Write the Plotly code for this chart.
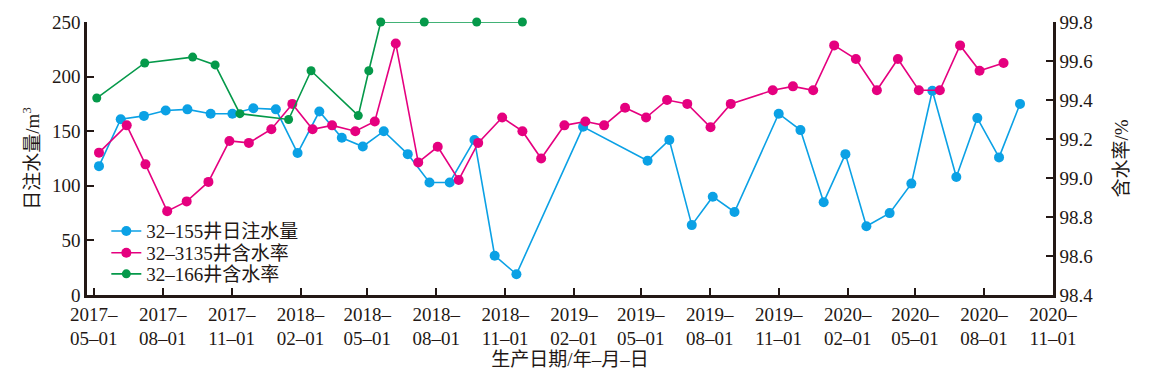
import plotly.graph_objects as go

# ---- data ----
inj_dates = ["2017-05-08","2017-06-06","2017-07-07","2017-08-05","2017-09-03","2017-10-04","2017-11-02","2017-11-30","2017-12-30","2018-01-28",
             "2018-02-26","2018-03-28","2018-04-25","2018-05-23","2018-06-24","2018-07-23","2018-08-19","2018-09-21","2018-10-18","2018-11-16",
             "2019-02-13","2019-05-10","2019-06-08","2019-07-08","2019-08-05","2019-09-03","2019-11-01","2019-11-30","2019-12-31","2020-01-29",
             "2020-02-26","2020-03-28","2020-04-26","2020-05-24","2020-06-25","2020-07-23","2020-08-21","2020-09-18"]
inj_155 = [118, 161, 164, 169, 170, 166, 166, 171, 170, 130,
           168, 144, 136, 150, 129, 103, 103, 142, 36, 19,
           154, 123, 142, 64, 90, 76, 166, 151, 85, 129,
           63, 75, 102, 187, 108, 162, 126, 175]

wc3135_dates = ["2017-05-08","2017-06-14","2017-07-09","2017-08-07","2017-09-02","2017-10-01","2017-10-29","2017-11-24","2017-12-24","2018-01-21",
                "2018-02-17","2018-03-15","2018-04-15","2018-05-11","2018-06-08","2018-07-08","2018-08-03","2018-08-31","2018-09-26","2018-10-28",
                "2018-11-24","2018-12-19","2019-01-19","2019-02-16","2019-03-13","2019-04-10","2019-05-08","2019-06-05","2019-07-02","2019-08-02",
                "2019-08-29","2019-10-24","2019-11-20","2019-12-17","2020-01-14","2020-02-12","2020-03-11","2020-04-08","2020-05-06","2020-06-03",
                "2020-06-30","2020-07-26","2020-08-27"]
wc_3135 = [99.13, 99.27, 99.07, 98.83, 98.88, 98.98, 99.19, 99.18, 99.25, 99.38,
           99.25, 99.27, 99.24, 99.29, 99.69, 99.08, 99.16, 98.99, 99.18, 99.31,
           99.24, 99.10, 99.27, 99.29, 99.27, 99.36, 99.31, 99.40, 99.38, 99.26,
           99.38, 99.45, 99.47, 99.45, 99.68, 99.61, 99.45, 99.61, 99.45, 99.45,
           99.68, 99.55, 99.59]

wc166_dates = ["2017-05-05","2017-07-08","2017-09-10","2017-10-10","2017-11-12","2018-01-16","2018-02-15","2018-04-19","2018-05-03",
               "2018-05-19","2018-07-16","2018-09-24","2018-11-24"]
wc_166 = [99.41, 99.59, 99.62, 99.58, 99.33, 99.30, 99.55, 99.32, 99.55, 99.80, 99.80, 99.80, 99.80]

tick_dates = ["2017-05-01","2017-08-01","2017-11-01","2018-02-01","2018-05-01","2018-08-01","2018-11-01","2019-02-01",
              "2019-05-01","2019-08-01","2019-11-01","2020-02-01","2020-05-01","2020-08-01","2020-11-01"]
tick_text = [d[:4] + "–<br>" + d[5:7] + "–" + d[8:10] for d in tick_dates]

names = ["32–155井日注水量", "32–3135井含水率", "32–166井含水率"]

# ---- style ----
C_BLUE = "#0BA1E5"
C_MAG = "#E5007F"
C_GRN = "#05994A"
INK = "#231815"
FONT = "Liberation Serif, Noto Sans CJK SC, serif"

fig = go.Figure()
fig.add_trace(go.Scatter(x=inj_dates, y=inj_155, name=names[0], mode="lines+markers", legend="legend",
                         line=dict(color=C_BLUE, width=1.6), marker=dict(color=C_BLUE, size=10),
                         cliponaxis=False))
fig.add_trace(go.Scatter(x=wc3135_dates, y=wc_3135, name=names[1], mode="lines+markers", yaxis="y2", legend="legend2",
                         line=dict(color=C_MAG, width=1.6), marker=dict(color=C_MAG, size=10),
                         cliponaxis=False))
fig.add_trace(go.Scatter(x=wc166_dates, y=wc_166, name=names[2], mode="lines+markers", yaxis="y2", legend="legend3",
                         line=dict(color=C_GRN, width=1.6), marker=dict(color=C_GRN, size=9),
                         cliponaxis=False))

axis_common = dict(showline=True, linecolor=INK, linewidth=2.5, ticks="inside", ticklen=7,
                   tickwidth=2, tickcolor=INK, showgrid=False, zeroline=False, automargin=False,
                   tickfont=dict(family=FONT, size=19, color=INK))

leg_common = dict(x=0.02, xanchor="left", yanchor="middle", bgcolor="rgba(0,0,0,0)",
                  font=dict(family=FONT, size=19, color=INK), itemwidth=30)

# page body has an 8px default margin, so the figure is sized to fit inside the window
fig.update_layout(
    width=1141, height=369,
    margin=dict(l=79, r=96, t=14, b=82),
    paper_bgcolor="white", plot_bgcolor="white",
    font=dict(family=FONT, size=19, color=INK),
    showlegend=True,
    legend=dict(y=0.234, **leg_common),
    legend2=dict(y=0.154, **leg_common),
    legend3=dict(y=0.077, **leg_common),
    xaxis=dict(type="date", range=["2017-04-22", "2020-11-01"], tickvals=tick_dates, ticktext=tick_text,
               title=dict(text="生产日期/年–月–日", font=dict(family=FONT, size=19, color=INK), standoff=2),
               **axis_common),
    yaxis=dict(range=[0, 250], dtick=50,
               title=dict(text="日注水量/m<sup>3</sup>", font=dict(family=FONT, size=19, color=INK), standoff=8),
               **axis_common),
    yaxis2=dict(range=[98.4, 99.8], dtick=0.2, tickformat=".1f", overlaying="y", side="right",
                title=dict(text="含水率/%", font=dict(family=FONT, size=19, color=INK), standoff=23),
                **axis_common),
)

fig.write_html("out.html")
